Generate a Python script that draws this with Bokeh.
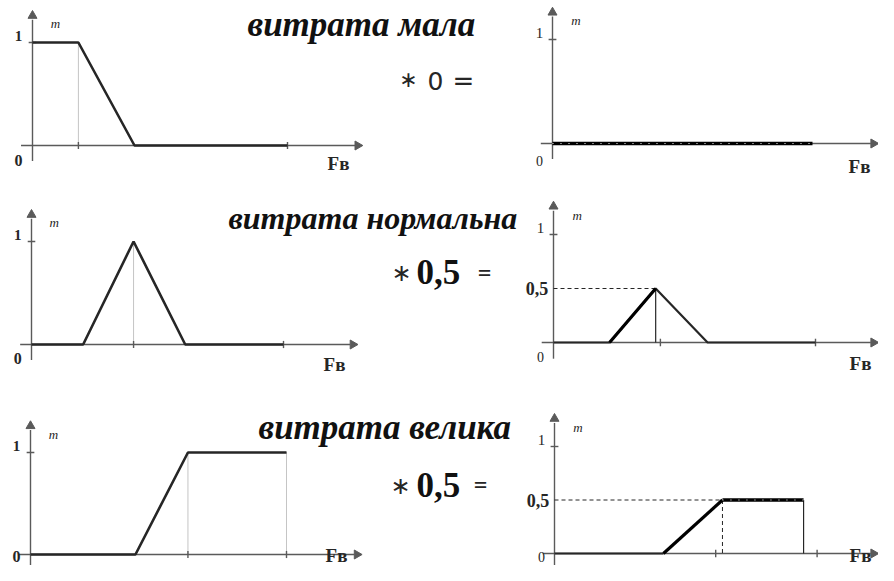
import numpy as np
from bokeh.plotting import figure
from bokeh.models import Range1d
from bokeh.core.properties import value
from bokeh.embed import file_html
from bokeh.resources import INLINE

# ---- data: membership functions (Fв in arbitrary units, m in 0..1) ----
small_x = [0, 1.8, 4.0, 10]
small_m = [1, 1, 0, 0]
normal_x = [0, 2.05, 4.05, 6.1, 10]
normal_m = [0, 0, 1, 0, 0]
large_x = [0, 4.1, 6.15, 10]
large_m = [0, 0, 1, 1]

# weights (activation levels) and resulting scaled functions
weight_labels = ["0", "0,5", "0,5"]
res_small_x = [0, 10]
res_small_m = [0, 0]
res_normal_x = [0, 2.14, 3.9, 5.88, 10]
res_normal_m = [0, 0, 0.5, 0, 0]
res_large_x = [0, 4.19, 6.46, 9.58]
res_large_m = [0, 0, 0.5, 0.5]

titles = ["витрата мала", "витрата нормальна", "витрата велика"]

# ---- layout (reference pixel frame) ----
# (origin x, baseline y, y of m=1, px per Fв unit, y of "0" label, x/y of "Fв")
LEFT = [(32, 145, 42, 25.5, 160, 338, 163),
        (31, 344, 241, 25.2, 358, 334, 364),
        (30, 554, 452, 25.6, 556, 336, 555)]
RIGHT = [(552, 143, 39, 26.0, 160, 859, 166),
         (553, 342, 234, 26.2, 356, 860, 363),
         (554, 553, 446, 26.0, 556, 860, 555)]
FW, FH = 878, 565

INK = "#262626"
AX = "#5a5a5a"
SERIF = value("Liberation Serif")

p = figure(width=FW, height=FH, x_range=Range1d(0, FW), y_range=Range1d(FH, 0),
           x_axis_type=None, y_axis_type=None, toolbar_location=None,
           output_backend="svg", min_border=0, outline_line_color=None)
p.grid.visible = False
p.background_fill_color = "white"


def panel(ox, base, one, s, zero_y, f_x, f_y, left=True):
    xy = p.subplot(x_source=Range1d(0, 10), y_source=Range1d(0, 1),
                   x_target=Range1d(ox, ox + 10 * s), y_target=Range1d(base, one))
    u = 1.0 / (base - one)  # m-units per pixel
    tip = min(12.75, (873 - ox) / s)
    # axes
    xy.line([-0.45, tip - 0.1], [0, 0], line_color=AX, line_width=1.4)
    xy.scatter([tip], [0], marker="triangle", size=9, angle=-np.pi / 2,
               fill_color=AX, line_color=AX)
    xy.line([0, 0], [-0.15, 1.22], line_color=AX, line_width=1.4)
    xy.scatter([0], [1.26], marker="triangle", size=9,
               fill_color=AX, line_color=AX)
    xy.line([-0.15, 0.15], [1, 1], line_color=AX, line_width=1.4)
    # labels
    lx = -0.55 if left else -0.5
    xy.text([lx], [1.06], text=["1"], text_font=SERIF, text_font_size="15px",
            text_font_style="bold" if left else "normal",
            text_align="center", text_baseline="middle", text_color=INK)
    xy.text([lx], [(base - zero_y) * u], text=["0"], text_font=SERIF,
            text_font_size="16px" if left else "14px",
            text_font_style="bold" if left else "normal",
            text_align="center", text_baseline="middle", text_color=INK)
    xy.text([0.9], [1.18], text=["m"], text_font=SERIF, text_font_size="13px",
            text_font_style="italic", text_align="center",
            text_baseline="middle", text_color=INK)
    xy.text([(f_x - ox) / s], [(base - f_y) * u], text=["Fв"], text_font=SERIF,
            text_font_size="19px", text_font_style="bold", text_align="center",
            text_baseline="middle", text_color=INK)
    return xy


def ticks(xy, xs):
    for x in xs:
        xy.line([x, x], [-0.035, 0.035], line_color=AX, line_width=1.4)


def dotted(xy, x, y_top):
    xy.line([x, x], [y_top, 0], line_color="#8a8a8a", line_width=1,
            line_dash="1 1")


# ---- left column: membership functions ----
a = panel(*LEFT[0])
dotted(a, small_x[1], small_m[1])
ticks(a, [small_x[1], small_x[3]])
a.line(small_x, small_m, line_color=INK, line_width=2.6)

b = panel(*LEFT[1])
dotted(b, normal_x[2], normal_m[2])
ticks(b, [normal_x[2], normal_x[4]])
b.line(normal_x, normal_m, line_color=INK, line_width=2.6)

c = panel(*LEFT[2])
dotted(c, large_x[2], large_m[2])
dotted(c, large_x[3], large_m[3])
ticks(c, [large_x[2], large_x[3]])
c.line(large_x, large_m, line_color=INK, line_width=2.6)

# ---- right column: scaled results ----
d = panel(*RIGHT[0], left=False)
d.line(res_small_x, res_small_m, line_color="black", line_width=3.6)
d.line(res_small_x, res_small_m, line_color="white", line_width=1,
       line_dash="1 7")

e = panel(*RIGHT[1], left=False)
ticks(e, [4.08, 10])
pk = res_normal_x[2]
e.line([0, pk], [res_normal_m[2]] * 2, line_color=INK, line_width=1,
       line_dash="4 3")
e.line([pk, pk], [res_normal_m[2], 0], line_color=INK, line_width=1.2)
e.line(res_normal_x, res_normal_m, line_color=INK, line_width=2.2)
e.line(res_normal_x[1:3], res_normal_m[1:3], line_color="black", line_width=3.2)
e.text([-0.2], [0.5], text=["0,5"], text_font=SERIF, text_font_size="18px",
       text_font_style="bold", text_align="right", text_baseline="middle",
       text_color=INK)

f = panel(*RIGHT[2], left=False)
ticks(f, [6.2, 10.1])
tp = res_large_x[2]
f.line([0, tp], [res_large_m[2]] * 2, line_color=INK, line_width=1,
       line_dash="4 3")
f.line([tp, tp], [res_large_m[2], 0], line_color=INK, line_width=1,
       line_dash="4 3")
f.line([res_large_x[3]] * 2, [res_large_m[3], 0], line_color=INK, line_width=1.2)
f.line(res_large_x[:2], res_large_m[:2], line_color=INK, line_width=2.2)
f.line(res_large_x[1:3], res_large_m[1:3], line_color="black", line_width=3.2)
f.line(res_large_x[2:4], res_large_m[2:4], line_color="black", line_width=3.6)
f.line(res_large_x[2:4], res_large_m[2:4], line_color="white", line_width=1,
       line_dash="1 7")
f.text([-0.2], [0.5], text=["0,5"], text_font=SERIF, text_font_size="18px",
       text_font_style="bold", text_align="right", text_baseline="middle",
       text_color=INK)

# ---- titles and operators ----
for t, x, y, fs in zip(titles, [247, 228, 258], [24, 217, 427],
                       ["35px", "32px", "35px"]):
    p.text([x], [y], text=[t], text_font=SERIF, text_font_size=fs,
           text_font_style="bold italic", text_align="left",
           text_baseline="middle", text_color="#111111")

SANS = value("DejaVu Sans")
p.text([408], [79], text=["∗"], text_font=SANS, text_font_size="22px",
       text_align="center", text_baseline="middle", text_color=INK)
p.text([435], [80], text=[weight_labels[0]], text_font=SANS,
       text_font_size="25px", text_align="center", text_baseline="middle",
       text_color=INK)
p.text([463], [80], text=["="], text_font=SANS, text_font_size="26px",
       text_align="center", text_baseline="middle", text_color=INK)

p.text([401, 400], [272, 485], text=["∗", "∗"], text_font=SANS,
       text_font_size="24px", text_align="center", text_baseline="middle",
       text_color=INK)
p.text([416, 416], [271, 484], text=weight_labels[1:], text_font=SERIF,
       text_font_size="35px", text_font_style="bold", text_align="left",
       text_baseline="middle", text_color="#111111")
p.text([484, 480], [272, 484], text=["=", "="], text_font=SERIF,
       text_font_size="24px", text_font_style="bold", text_align="center",
       text_baseline="middle", text_color=INK)

open("out.html", "w").write(file_html(p, INLINE))
